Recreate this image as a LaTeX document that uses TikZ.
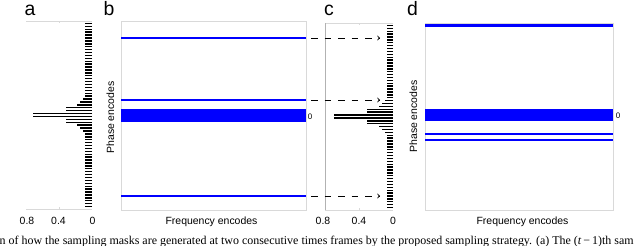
\documentclass[tikz,border=0pt]{standalone}
\usepackage{fontspec}
\setmainfont{Liberation Serif}
\setsansfont{Liberation Sans}

\begin{document}
\begin{tikzpicture}[
  x=1bp,y=-1bp,
  >=to,
  frame/.style={draw=gray!30,line width=0.8bp},
  mline/.style={draw=blue,line width=2.4bp},
  bar/.style={line width=1.4bp},
  panel/.style={font=\sffamily\fontsize{19.5}{20}\selectfont,anchor=base,inner sep=0pt},
  tlbl/.style={font=\sffamily\fontsize{10.5}{11}\selectfont,anchor=base,inner sep=0pt},
  alab/.style={font=\sffamily\fontsize{10.5}{11}\selectfont,inner sep=0pt},
  zero/.style={font=\sffamily\fontsize{8}{8}\selectfont,inner sep=0pt},
  move/.style={->,dash pattern=on 6.5bp off 7bp,line width=0.9bp},
]
\useasboundingbox (0,0) rectangle (640,245);

% panel letters
\node[panel] (la) at (30,15.5)  {a};
\node[panel] (lb) at (109,15.5) {b};
\node[panel] (lc) at (329,15.5) {c};
\node[panel] (ld) at (412.5,15.5) {d};

% a: sampling probability of frame t-1
\draw[frame] (26,21) -- (92,21) (26,209) -- (92,209);
\draw[frame] (59,21) -- (59,23) (59,209) -- (59,207);
\foreach \i in {0,...,63} {
  \pgfmathsetmacro\k{abs(\i-31.5)-0.5}
  \pgfmathsetmacro\v{\k<1 ? 0.71 : (\k<3 ? 0.32 : (\k<4 ? 0.18 : (\k<5 ? 0.145 : (\k<6 ? 0.11 : 0.085))))}
  \draw[bar] (92,{22+(\i+0.5)*186/64}) -- ++({-82.5*\v},0);
}
\node[tlbl] (a08) at (27,224)   {0.8};
\node[tlbl] (a04) at (58.5,224) {0.4};
\node[tlbl] (a00) at (92.5,224) {0};

% b: mask of frame t-1
\draw[frame] (121,21) rectangle (306,210);
\draw[mline] (121,38)  -- (306,38);
\draw[mline] (121,100) -- (306,100);
\fill[blue]  (121,109.3) rectangle (306,121.7);
\draw[mline] (121,196) -- (306,196);
\node[zero] (b0) at (310,117) {0};
\node[alab,rotate=90] (bph) at (110.5,117.5) {Phase encodes};
\node[alab,anchor=base] (bfr) at (211.5,224) {Frequency encodes};

% c: updated probability of frame t
\draw[frame] (393,23) -- (325,23) (325,210) -- (393,210);
\draw[draw=gray!60,line width=0.8bp] (325,23) -- (325,210);
\draw[frame] (359,23) -- (359,25) (359,210) -- (359,208);
\foreach \i in {0,...,63} {
  \pgfmathsetmacro\k{abs(\i-31.5)-0.5}
  \pgfmathsetmacro\v{\k<1 ? 0.70 : (\k<3 ? 0.31 : (\k<4 ? 0.17 : (\k<5 ? 0.13 : (\k<6 ? 0.10 : 0.075))))}
  \draw[bar] (393,{24+(\i+0.5)*185/64}) -- ++({-84*\v},0);
}
\node[tlbl] (c08) at (323,224) {0.8};
\node[tlbl] (c04) at (359,224) {0.4};
\node[tlbl] (c00) at (393,224) {0};

% moves from the lines taken in b
\coordinate (b1) at (311,38);  \coordinate (c1) at (380,38);
\coordinate (b2) at (311,100); \coordinate (c2) at (380,100);
\coordinate (b3) at (311,196); \coordinate (c3) at (380,196);
\draw[move] (b1) -- (c1);
\draw[move] (b2) -- (c2);
\draw[move] (b3) -- (c3);

% d: mask of frame t
\draw[frame] (425,23) rectangle (613,210);
\draw[draw=blue,line width=3bp] (425,25) -- (613,25);
\fill[blue]  (425,109.3) rectangle (613,120.7);
\draw[mline] (425,134) -- (613,134);
\draw[mline] (425,140) -- (613,140);
\node[zero] (d0) at (618,115.7) {0};
\node[alab,rotate=90] (dph) at (413.5,116.5) {Phase encodes};
\node[alab,anchor=base] (dfr) at (522.5,224) {Frequency encodes};

% caption, cut by the page edge
\begin{scope}
\clip (0,0) rectangle (640,245);
\node[anchor=base west,inner sep=0pt,font=\fontsize{12}{13}\selectfont] (cap) at (-0.5,244.5)
  {n of how the sampling masks are generated at two consecutive times frames by the proposed sampling strategy. (a) The (\textit{t}\,−\,1)th sam};
\end{scope}

\end{tikzpicture}
\end{document}
